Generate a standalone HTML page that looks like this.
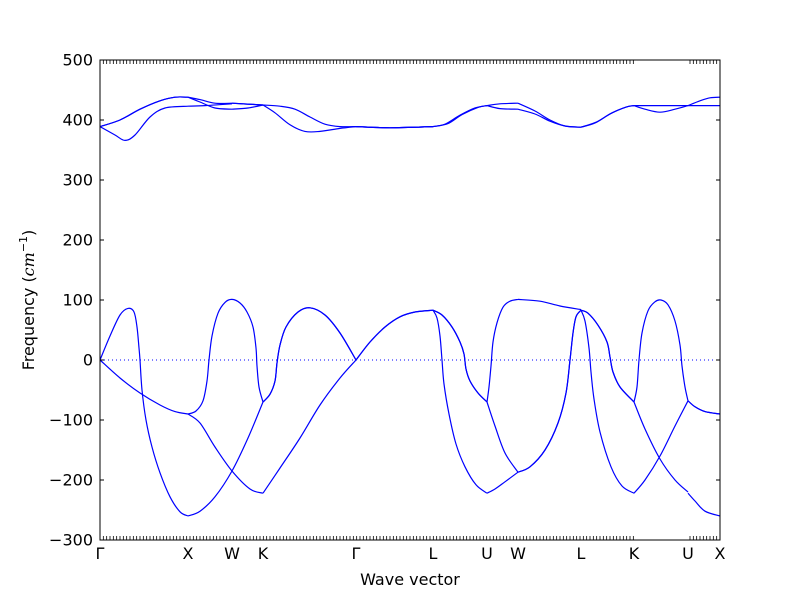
<!DOCTYPE html>
<html><head><meta charset="utf-8"><style>
body{margin:0;background:#fff}
svg text{font-family:"DejaVu Sans","Liberation Sans",sans-serif}
</style></head><body>
<svg id="chart" width="800" height="600" xmlns="http://www.w3.org/2000/svg">
<rect width="800" height="600" fill="#fff"/>
<g id="marks"></g>
<g id="axes"></g>
<text x="410" y="585" font-size="16" text-anchor="middle">Wave vector</text>
<text transform="translate(34,300) rotate(-90)" font-size="16" text-anchor="middle">Frequency (<tspan font-style="italic" font-family="DejaVu Serif">cm</tspan><tspan font-size="11" dy="-7">−1</tspan><tspan dy="7">)</tspan></text>
</svg>
<script>
const kLabels=["Γ","X","W","K","Γ","L","U","W","L","K","U","X"];
const kPos=[0,88,132,163,256,333,387,418,481,534,588,620];
const yTicks=[500,400,300,200,100,0,-100,-200,-300];
const kGap=[534,588];
// acoustic
const acA1=[[0,0],[10,40],[20,75],[28,86],[34,80],[37,55],[39,20],[40,0],[42,-50],[46,-100],[52,-145],[60,-188],[70,-228],[80,-253],[88,-260]];
const acB1=[[0,0],[20,-30],[40,-55],[60,-75],[75,-86],[88,-90]];
const acXW1=[[88,-90],[96,-85],[103,-68],[107,-35],[109,0],[112,40],[118,78],[125,96],[132,101],[140,95],[147,80],[153,55],[156,20],[157,-10],[159,-45],[163,-70]];
const acXW2=[[88,-90],[100,-105],[115,-145],[132,-185],[150,-215],[163,-222]];
const acXW3=[[88,-260],[100,-252],[115,-228],[132,-185],[148,-130],[163,-70]];
const acKG1=[[163,-70],[170,-57],[175,-35],[177,-5],[180,25],[186,55],[198,80],[210,87],[225,75],[240,45],[256,0]];
const acKG2=[[163,-222],[180,-180],[200,-130],[220,-75],[240,-30],[256,0]];
const acGL=[[256,0],[270,30],[285,55],[300,72],[315,80],[333,83]];
const acLU1=[[333,83],[342,75],[352,55],[360,30],[364,10],[366,-15],[370,-35],[378,-55],[387,-70]];
const acLU2=[[333,83],[337,70],[340,40],[342,0],[344,-40],[349,-90],[356,-140],[365,-178],[376,-208],[387,-222]];
const acUW1=[[387,-70],[389,-45],[391,-10],[393,30],[397,62],[403,88],[410,98],[418,101]];
const acUW2=[[387,-70],[395,-110],[405,-155],[418,-187]];
const acUW3=[[387,-222],[395,-215],[405,-203],[418,-187]];
const acWL1=[[418,101],[440,98],[460,90],[481,84]];
const acWL2=[[418,-187],[430,-178],[445,-150],[458,-105],[466,-55],[470,0],[473,45],[476,72],[481,83]];
const acLK1=[[481,83],[488,78],[498,58],[507,30],[510,5],[513,-20],[520,-45],[534,-70]];
const acLK2=[[481,83],[485,65],[489,20],[491,-20],[494,-65],[500,-120],[511,-178],[522,-210],[534,-222]];
const acKU1=[[534,-222],[545,-200],[560,-160],[575,-110],[588,-68]];
const acKU2=[[534,-70],[537,-45],[539,0],[542,45],[548,82],[555,97],[561,100],[568,92],[575,65],[580,25],[582,-10],[585,-45],[588,-68]];
const acKU3=[[534,-70],[545,-115],[560,-165],[575,-200],[588,-220]];
const acUX1=[[588,-68],[595,-78],[605,-86],[620,-90]];
const acUX2=[[588,-222],[595,-235],[605,-252],[620,-260]];
// optical
const opGX1=[[0,389],[20,400],[40,418],[60,432],[75,438],[88,438]];
const opGX2=[[0,389],[15,375],[25,366],[35,375],[50,405],[65,420],[88,423]];
const opXW1=[[88,438],[100,434],[115,428],[132,428]];
const opXW2=[[88,438],[100,430],[115,420],[132,418]];
const opXW3=[[88,423],[105,424],[132,427]];
const opWK1=[[132,428],[163,425]];
const opWK2=[[132,418],[148,420],[163,425]];
const opKG1=[[163,425],[180,423],[195,418],[210,405],[225,393],[240,389],[256,389]];
const opKG2=[[163,425],[175,412],[190,392],[205,381],[220,381],[240,386],[256,389]];
const opGL=[[256,389],[290,387],[333,389]];
const opLU1=[[333,389],[345,393],[360,408],[375,420],[387,424]];
const opLU2=[[333,389],[348,394],[362,409],[378,421],[387,424]];
const opUW1=[[387,424],[400,427],[418,428]];
const opUW2=[[387,424],[400,419],[418,418]];
const opWL1=[[418,428],[435,415],[450,400],[465,390],[481,388]];
const opWL2=[[418,418],[435,410],[450,398],[465,390],[481,388]];
const opLK1=[[481,388],[495,395],[510,410],[525,421],[534,424]];
const opLK2=[[481,388],[497,397],[512,412],[527,422],[534,424]];
const opKU1=[[534,424],[588,424]];
const opKU2=[[534,424],[545,418],[560,413],[575,418],[588,424]];
const opUX1=[[588,424],[600,432],[610,437],[620,438]];
const opUX2=[[588,424],[620,424]];

const X0=100,X1=720,Y0=540,Y1=60;
const sx=k=>X0+(k-0)/(620-0)*(X1-X0);
const sy=f=>Y0-(f-(-300))/(500-(-300))*(Y0-Y1);
const NS="http://www.w3.org/2000/svg";
function mk(t,a,p){const e=document.createElementNS(NS,t);for(const k in a)e.setAttribute(k,a[k]);p.appendChild(e);return e;}
function pathD(pts){
  const P=pts.map(p=>[sx(p[0]),sy(p[1])]);
  let d="M"+P[0][0].toFixed(2)+","+P[0][1].toFixed(2);
  for(let i=0;i<P.length-1;i++){
    const p0=P[Math.max(0,i-1)],p1=P[i],p2=P[i+1],p3=P[Math.min(P.length-1,i+2)];
    const c1=[p1[0]+(p2[0]-p0[0])/6,p1[1]+(p2[1]-p0[1])/6];
    const c2=[p2[0]-(p3[0]-p1[0])/6,p2[1]-(p3[1]-p1[1])/6];
    d+=`C${c1[0].toFixed(2)},${c1[1].toFixed(2)} ${c2[0].toFixed(2)},${c2[1].toFixed(2)} ${p2[0].toFixed(2)},${p2[1].toFixed(2)}`;
  }
  return d;
}
const marks=document.getElementById('marks');
const zl=mk('line',{x1:sx(0),x2:sx(620),y1:sy(0),y2:sy(0),stroke:'#0000ff','stroke-width':1,'stroke-dasharray':'1,3'},marks);


const series=[acA1,acB1,acXW1,acXW2,acXW3,acKG1,acKG1,acKG2,acGL,acGL,acLU1,acLU1,acLU2,acUW1,acUW2,acUW3,acWL1,acWL2,acWL2,acLK1,acLK1,acLK2,acKU1,acKU2,acKU3,acUX1,acUX1,acUX2,
opGX1,opGX1,opGX2,opXW1,opXW2,opXW3,opWK1,opWK1,opWK2,opKG1,opKG2,opGL,opGL,opGL,opLU1,opLU2,opUW1,opUW2,opWL1,opWL2,opLK1,opLK2,opKU1,opKU2,opUX1,opUX2];
series.forEach(s=>{
  const p=mk('path',{d:pathD(s),fill:'none',stroke:'#0000ff','stroke-width':1.2},marks);
  
  
});
const ax=document.getElementById('axes');
const fr=mk('rect',{x:X0,y:Y1,width:X1-X0,height:Y0-Y1,fill:'none',stroke:'#000','stroke-width':1},ax);


yTicks.forEach(v=>{
  const y=sy(v);
  mk('line',{x1:X0,x2:X0+4,y1:y,y2:y,stroke:'#000'},ax);
  mk('line',{x1:X1-4,x2:X1,y1:y,y2:y,stroke:'#000'},ax);
  const t=mk('text',{x:X0-7,y:y+5.5,'font-size':16,'text-anchor':'end'},ax);
  t.textContent=(v<0?'−'+(-v):String(v));
  
  
});
for(let k=0;k<=620.01;k+=620/186){
  if(k>kGap[0]+0.5&&k<kGap[1]-0.5)continue;
  const x=sx(k);
  mk('line',{x1:x,x2:x,y1:Y0,y2:Y0-4,stroke:'#000','stroke-width':0.8},ax);
  mk('line',{x1:x,x2:x,y1:Y1,y2:Y1+4,stroke:'#000','stroke-width':0.8},ax);
}
kLabels.forEach((l,i)=>{
  const t=mk('text',{x:sx(kPos[i]),y:559,'font-size':16,'text-anchor':'middle'},ax);
  if(l==='Γ')t.setAttribute('font-family','DejaVu Serif');
  t.textContent=l;
  
  
});
</script>
</body></html>
